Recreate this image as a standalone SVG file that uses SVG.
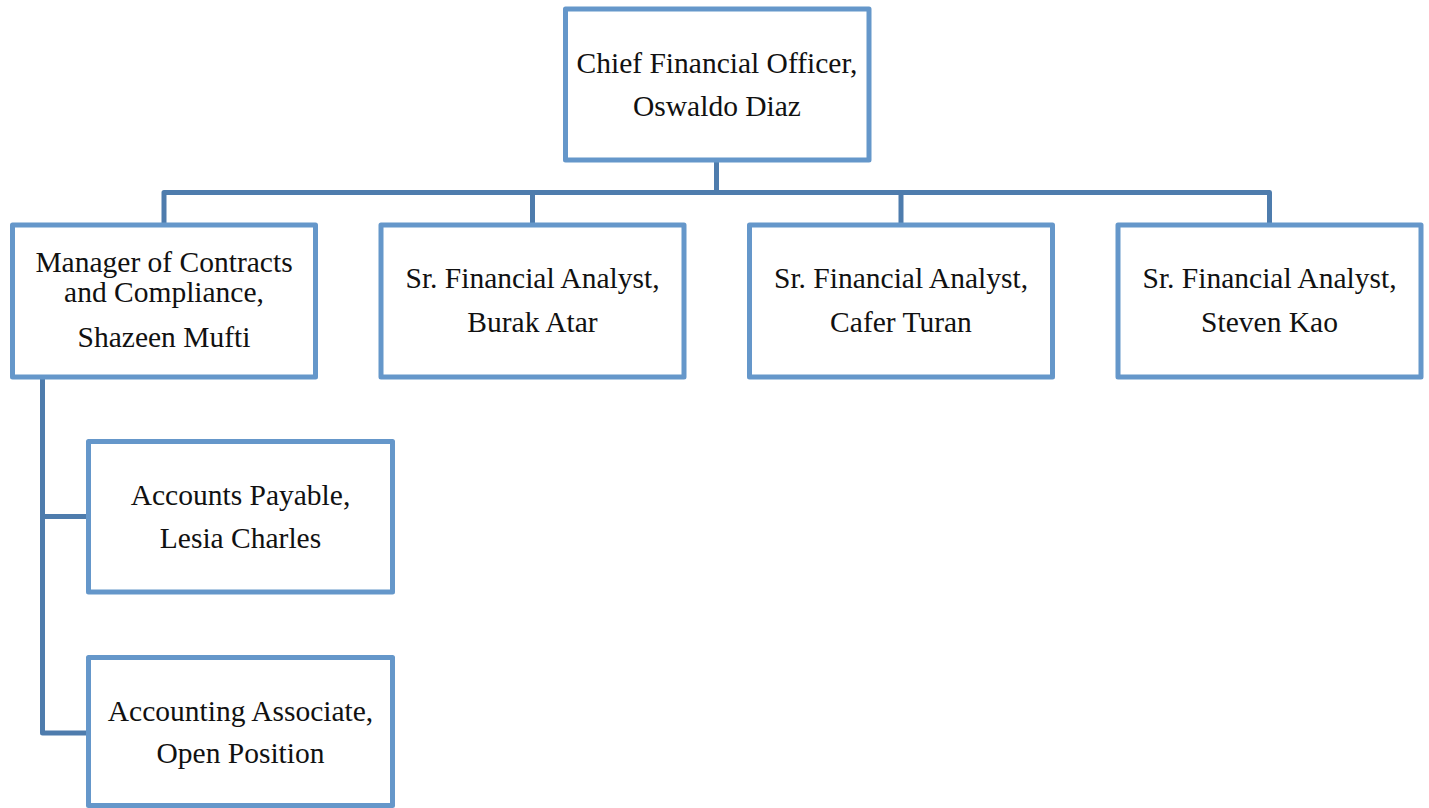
<svg xmlns="http://www.w3.org/2000/svg" width="1429" height="808" viewBox="0 0 1429 808">
<style>
.box{fill:#ffffff;stroke:#6597CA;stroke-width:5;stroke-linejoin:round}
.con{fill:none;stroke:#4E7CAD;stroke-width:5;stroke-linejoin:round}
text{font-family:"Liberation Serif","Times New Roman",serif;font-size:29.5px;fill:#111111;text-anchor:middle}
</style>
<rect width="1429" height="808" fill="#ffffff"/>
<g id="connectors">
<path class="con" d="M716.5,160 V192.5 M164,225 V192.5 H1269.5 V225 M532.5,192.5 V225 M901,192.5 V225"/>
<path class="con" d="M42.5,377 V733 H88.5 M42.5,516.5 H88.5"/>
</g>
<g id="cfo">
<rect class="box" x="565.5" y="9" width="303.5" height="151"/>
<text x="717" y="73">Chief Financial Officer,</text>
<text x="717" y="116">Oswaldo Diaz</text>
</g>
<g id="manager">
<rect class="box" x="12.5" y="225" width="303" height="152"/>
<text x="164" y="271.7">Manager of Contracts</text>
<text x="164" y="301.7">and Compliance,</text>
<text x="164" y="346.7">Shazeen Mufti</text>
</g>
<g id="burak">
<rect class="box" x="381" y="225" width="303" height="152"/>
<text x="532.5" y="288">Sr. Financial Analyst,</text>
<text x="532.5" y="331.7">Burak Atar</text>
</g>
<g id="cafer">
<rect class="box" x="749.5" y="225" width="303" height="152"/>
<text x="901" y="288">Sr. Financial Analyst,</text>
<text x="901" y="331.7">Cafer Turan</text>
</g>
<g id="steven">
<rect class="box" x="1118" y="225" width="303" height="152"/>
<text x="1269.5" y="288">Sr. Financial Analyst,</text>
<text x="1269.5" y="331.7">Steven Kao</text>
</g>
<g id="payable">
<rect class="box" x="88.5" y="441.5" width="304" height="150.5"/>
<text x="240.5" y="505">Accounts Payable,</text>
<text x="240.5" y="547.7">Lesia Charles</text>
</g>
<g id="associate">
<rect class="box" x="88.5" y="657.5" width="304" height="148"/>
<text x="240.5" y="720.7">Accounting Associate,</text>
<text x="240.5" y="763.3">Open Position</text>
</g>
</svg>
